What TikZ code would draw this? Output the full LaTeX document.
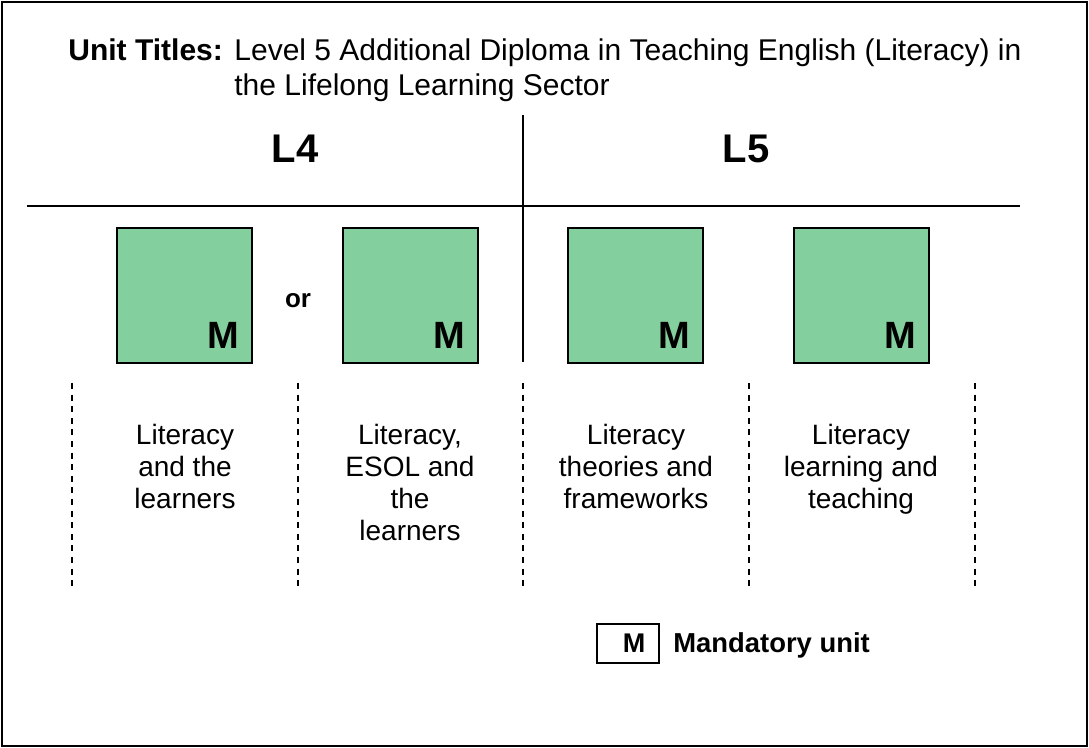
\documentclass[tikz,border=0pt]{standalone}
\usepackage{fontspec}
\setmainfont{Liberation Sans}
\definecolor{unitgreen}{RGB}{131,207,157}
\tikzset{
  unitbox/.style={draw,line width=1pt,fill=unitgreen,minimum size=67.5pt,inner sep=0pt},
  unitmark/.style={anchor=base east,inner sep=0pt,font=\fontsize{19}{19}\selectfont\bfseries},
  unittext/.style={anchor=north,inner sep=0pt,align=center,font=\fontsize{14}{16}\selectfont},
  levelhead/.style={font=\fontsize{20}{20}\selectfont\bfseries,inner sep=0pt},
  divider/.style={line width=0.9pt,dash pattern=on 3pt off 2.8pt}
}
\begin{document}
\begin{tikzpicture}[x=0.5pt,y=-0.5pt]
    \useasboundingbox (0,0) rectangle (1089,748);
    \draw[line width=1pt](2,2) rectangle (1087,746);
    % title
    \node[anchor=base west,inner sep=0pt,font=\fontsize{15}{17.5}\selectfont\bfseries](titlehead) at (68,61)
        {Unit Titles:};
    \node[anchor=base west,inner sep=0pt,align=left,font=\fontsize{15}{17.5}\selectfont](title) at (234,96)
        {Level 5 Additional Diploma in Teaching English (Literacy) in\\the Lifelong Learning Sector};
    % levels
    \node[levelhead](l4) at (295,149){L4};
    \node[levelhead](l5) at (746,149){L5};
    \draw[line width=1pt](27,206)--(1020,206);
    \draw[line width=0.75pt](523,115)--(523,362);
    % units
    \node[unitbox](u1) at (184.5,295.5){};
    \node[unitbox](u2) at (410.5,295.5){};
    \node[unitbox](u3) at (635.5,295.5){};
    \node[unitbox](u4) at (861.5,295.5){};
    \foreach \u in {u1,u2,u3,u4}
        \node[unitmark] at ([shift={(-13,-15)}]\u.south east){M};
    \node[font=\fontsize{13}{13}\selectfont\bfseries](or) at (298,301){or};
    \foreach \x in {72,298,523,749,975}
        \draw[divider](\x,383)--(\x,590);
    \node[unittext](t1) at (185,424){Literacy\\and the\\learners};
    \node[unittext](t2) at (410,424){Literacy,\\ESOL and\\the\\learners};
    \node[unittext](t3) at (636,424){Literacy\\theories and\\frameworks};
    \node[unittext](t4) at (861,424){Literacy\\learning and\\teaching};
    % key
    \node[draw,line width=1pt,minimum width=31pt,minimum height=19.5pt,inner sep=0pt](key) at (628,643.5){};
    \node[font=\fontsize{13.5}{13.5}\selectfont\bfseries,inner sep=0pt](keym) at ([xshift=3pt]key.center){M};
    \node[anchor=base west,inner sep=0pt,font=\fontsize{13.7}{13.7}\selectfont\bfseries](keytext)
        at (673,653){Mandatory unit};
\end{tikzpicture}
\end{document}
